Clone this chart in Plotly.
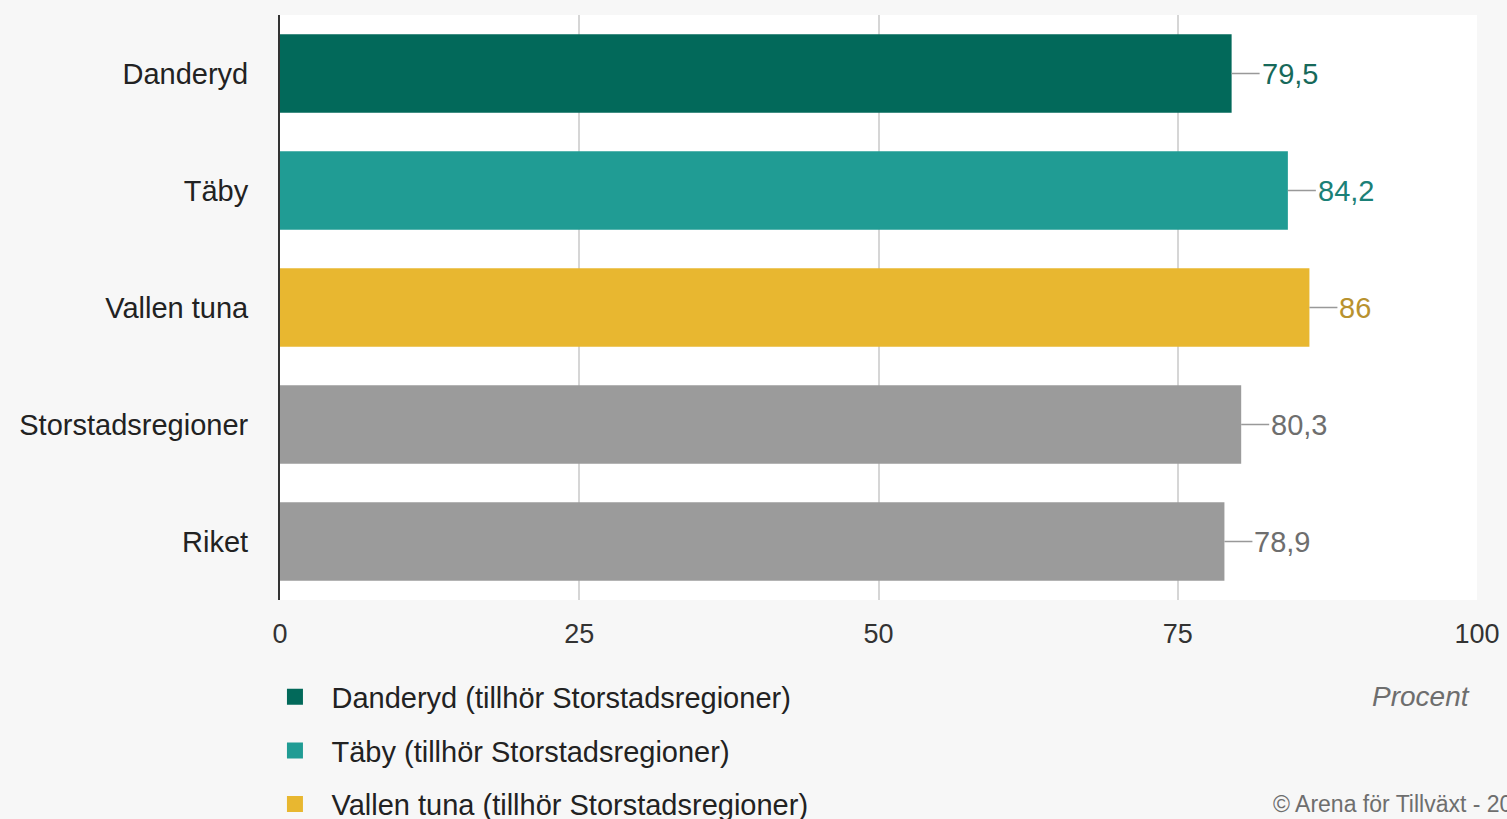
import plotly.graph_objects as go

categories = ["Danderyd", "Täby", "Vallen tuna", "Storstadsregioner", "Riket"]
values = [79.5, 84.2, 86.0, 80.3, 78.9]
value_labels = ["79,5", "84,2", "86", "80,3", "78,9"]
legend_names = ["Danderyd (tillhör Storstadsregioner)",
                "Täby (tillhör Storstadsregioner)",
                "Vallen tuna (tillhör Storstadsregioner)"]
bar_colors = ["#02695a", "#209c94", "#e8b730", "#9b9b9b", "#9b9b9b"]
label_colors = ["#17695a", "#1b8077", "#b8922e", "#6e6e6e", "#6e6e6e"]
x_ticks = [0, 25, 50, 75, 100]

FONT = "Liberation Sans, Arial, sans-serif"

fig = go.Figure()
for i in range(3):
    fig.add_trace(go.Bar(
        y=[categories[i]], x=[values[i]], orientation="h",
        marker=dict(color=bar_colors[i], line=dict(width=0)),
        name=legend_names[i], width=0.67, showlegend=False,
        legendgroup=f"g{i}",
    ))
fig.add_trace(go.Bar(
    y=categories[3:], x=values[3:], orientation="h",
    marker=dict(color=bar_colors[3], line=dict(width=0)),
    name="Övriga", width=0.67, showlegend=False,
))
# legend entries (square swatches)
for i in range(3):
    fig.add_trace(go.Scatter(
        x=[None], y=[None], mode="markers",
        marker=dict(symbol="square", size=24, color=bar_colors[i]),
        name=legend_names[i], legendgroup=f"g{i}", showlegend=True,
    ))

for i, (c, v) in enumerate(zip(categories, values)):
    fig.add_annotation(
        x=v, y=c, xref="x", yref="y", text=value_labels[i],
        showarrow=True, arrowhead=0, arrowwidth=1.5, arrowcolor="#999999",
        ax=28, ay=0, xanchor="left", standoff=0, startstandoff=0,
        font=dict(family=FONT, size=29, color=label_colors[i]),
    )

fig.add_annotation(
    x=0.996, y=-0.165, xref="paper", yref="paper", text="<i>Procent</i>",
    showarrow=False, xanchor="right", yanchor="middle",
    font=dict(family=FONT, size=28, color="#6e6e6e"),
)
fig.add_annotation(
    x=0.828, y=-0.349, xref="paper", yref="paper", text="© Arena för Tillväxt - 2018",
    showarrow=False, xanchor="left", yanchor="middle",
    font=dict(family=FONT, size=23, color="#6e6e6e"),
)

fig.update_layout(
    width=1507, height=819,
    margin=dict(l=280, r=30, t=15, b=219, autoexpand=False),
    paper_bgcolor="#f7f7f7", plot_bgcolor="#ffffff",
    barmode="overlay",
    font=dict(family=FONT, size=29, color="#222222"),
    showlegend=True,
    legend=dict(
        x=-0.018, y=-0.122, xanchor="left", yanchor="top",
        orientation="v", bgcolor="rgba(0,0,0,0)",
        font=dict(family=FONT, size=29, color="#222222"),
        itemwidth=63, traceorder="grouped", tracegroupgap=13,
        itemsizing="trace",
    ),
    xaxis=dict(
        range=[0, 100], tickvals=x_ticks, ticktext=[str(t) for t in x_ticks],
        showgrid=True, gridcolor="#d6d6d6", gridwidth=1.5,
        zeroline=False, showline=False, ticks="", ticklabelstandoff=15,
        tickfont=dict(family=FONT, size=27, color="#333333"),
        fixedrange=True,
    ),
    yaxis=dict(
        categoryorder="array", categoryarray=categories, autorange="reversed",
        showline=True, linecolor="#333333", linewidth=2,
        showgrid=False, ticks="", ticklabelstandoff=24,
        tickfont=dict(family=FONT, size=29, color="#222222"),
        fixedrange=True,
    ),
)

fig.write_html("out.html", config={"displayModeBar": False},
               post_script="document.body.style.margin='0px';")
